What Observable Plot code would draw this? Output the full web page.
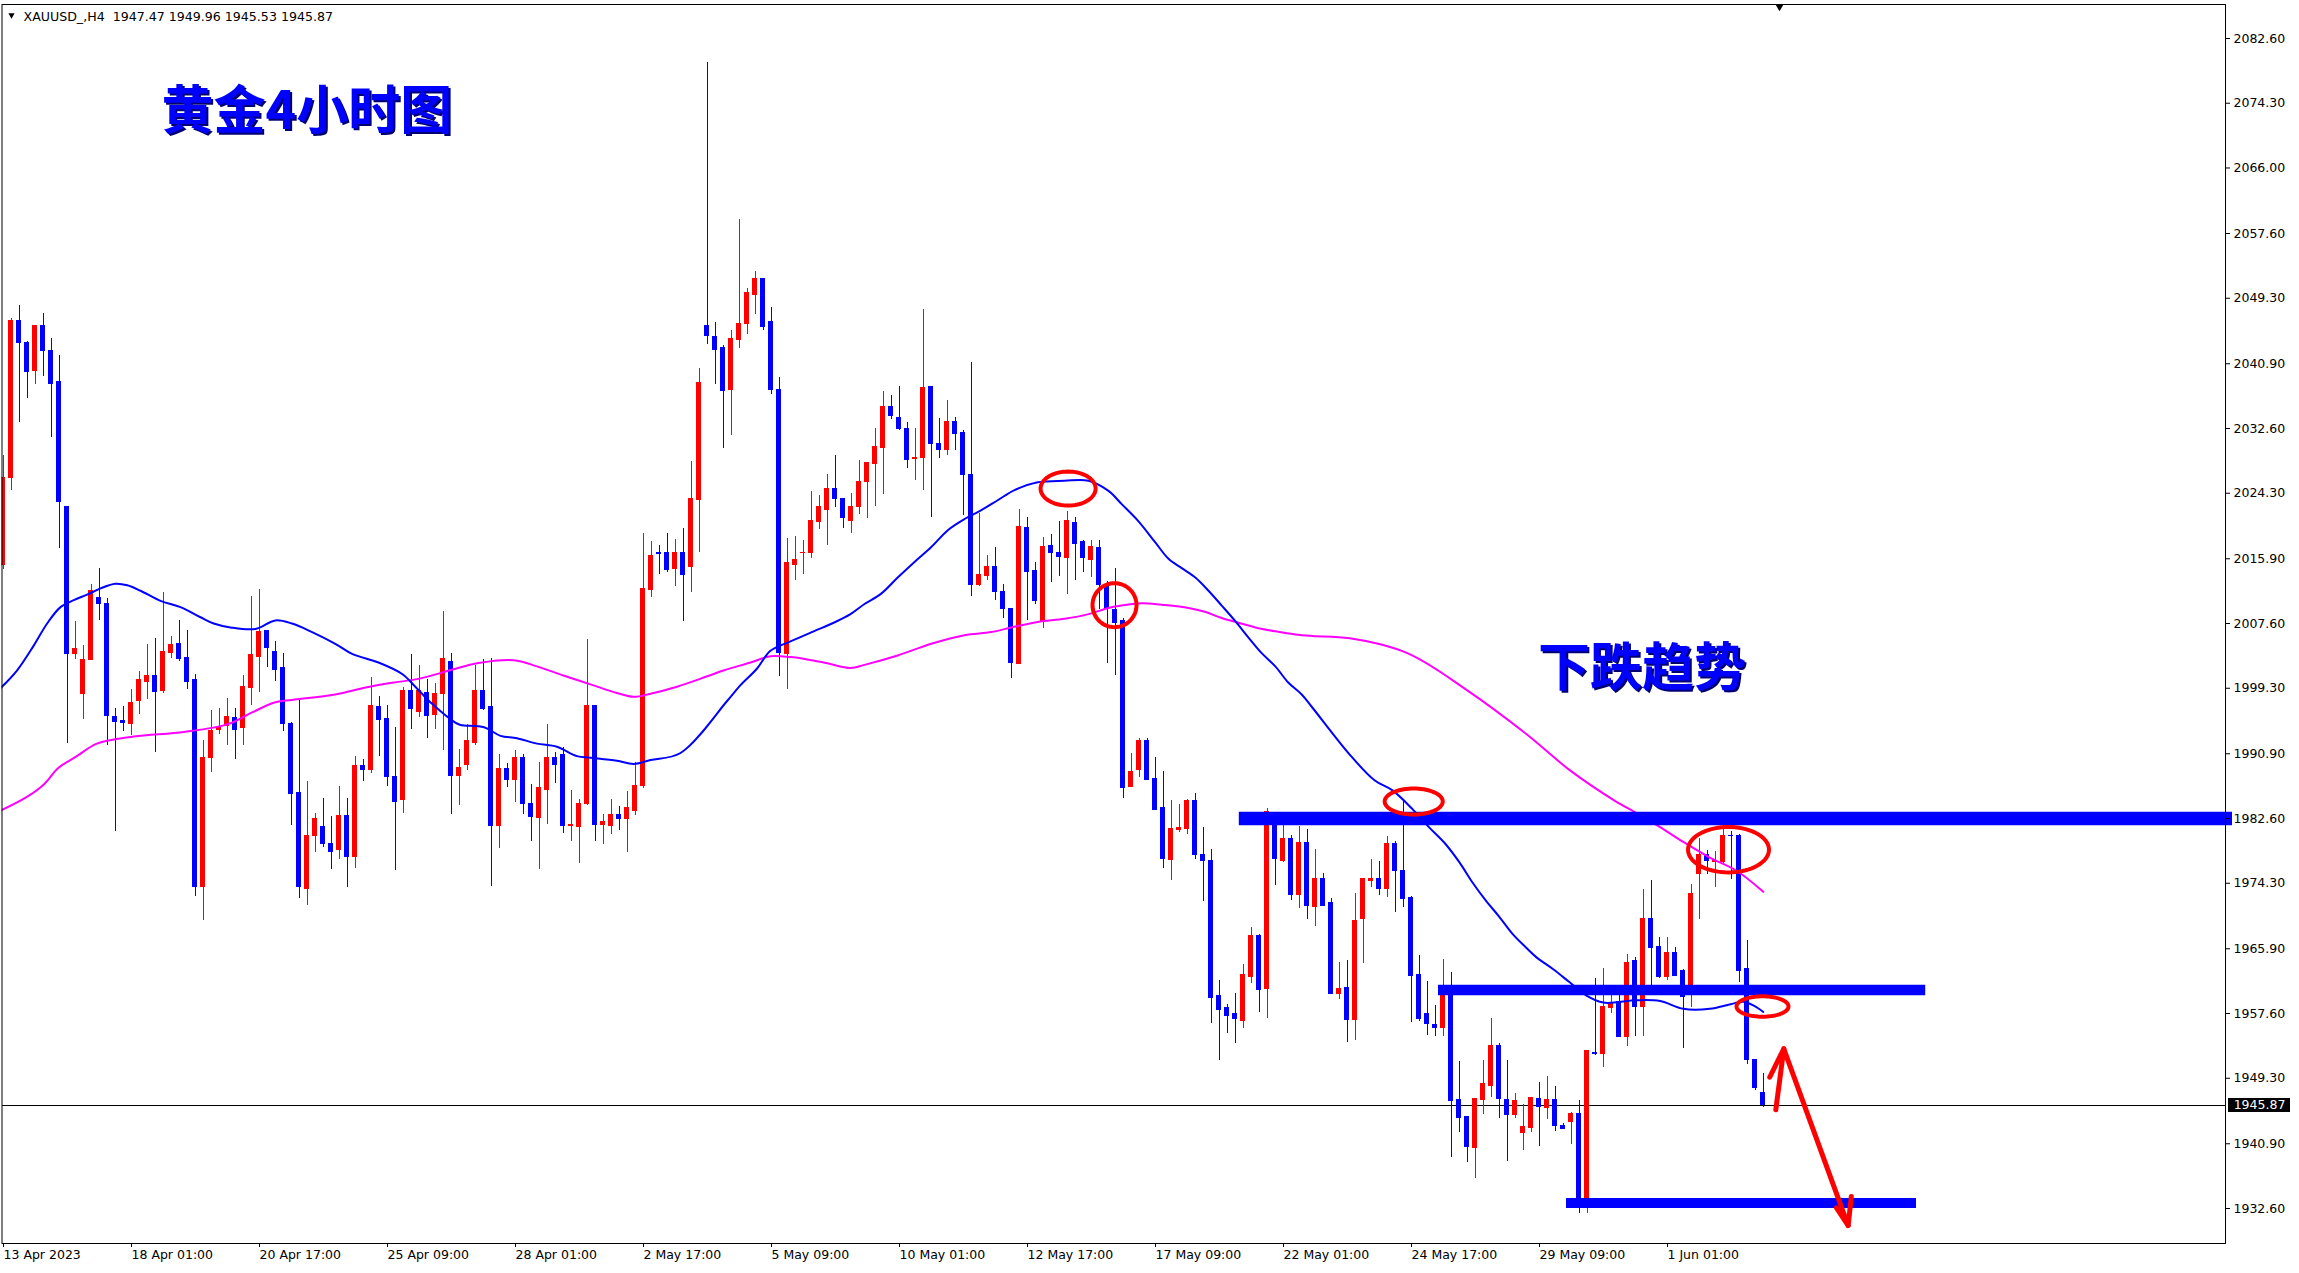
<!DOCTYPE html>
<html>
<head>
<meta charset="utf-8">
<script src="https://cdn.jsdelivr.net/npm/d3@7"></script>
<script src="https://cdn.jsdelivr.net/npm/@observablehq/plot@0.6"></script>
<style>
html,body{margin:0;padding:0;background:#fff;}
#chart svg{display:block;}
</style>
</head>
<body>
<div id="chart"></div>
<script>
// ---------- DATA ----------
const headerSymbol = "XAUUSD_,H4";
const lastOHLC = ["1947.47", "1949.96", "1945.53", "1945.87"];
const currentPrice = 1945.87;
const chartTitle = "黄金4小时图";
const trendLabel = "下跌趋势";

// H4 candles, index 0 = first visible bar (13 Apr 2023)
const opens = [
2015.1,2026.3,2046.4,2043.5,2040.0,2045.7,2042.5,2038.5,2022.6,2003.7,
1998.5,2002.9,2010.9,2010.1,1995.6,1995.1,1994.7,1997.7,2000.1,2000.9,
1999.0,2003.8,2005.0,2003.2,2000.3,1973.8,1990.4,1994.0,1994.4,1995.5,
1994.2,1999.3,2003.3,2006.6,2004.0,2001.9,1994.7,1985.9,1973.5,1980.3,
1981.5,1979.3,1978.6,1982.9,1977.7,1989.3,1988.8,1996.9,1995.3,1987.9,
1985.0,1998.9,1996.2,1998.7,1995.9,1998.5,2002.7,1988.0,1989.5,1992.3,
1998.9,1996.9,1981.7,1989.0,1987.5,1990.3,1984.5,1982.7,1986.2,1990.4,
1990.7,1981.6,1981.5,1984.4,1997.0,1981.8,1981.6,1983.1,1982.5,1983.6,
1986.8,2011.9,2016.6,2016.6,2014.6,2016.7,2014.9,2023.4,2045.8,2044.3,
2042.9,2037.5,2044.0,2046.0,2049.7,2051.8,2046.2,2037.6,2003.7,2015.1,
2016.6,2016.7,2020.6,2022.2,2024.8,2023.6,2020.7,2022.5,2025.8,2028.1,
2030.1,2035.4,2033.9,2032.6,2028.7,2028.8,2037.9,2030.6,2029.8,2033.4,
2032.0,2026.7,2012.6,2013.7,2014.9,2011.7,2009.4,2002.4,2019.9,2014.3,
2007.8,2017.5,2016.7,2016.0,2020.5,2018.0,2015.8,2017.3,2012.5,2009.3,
2007.9,1986.7,1988.8,1992.5,1987.7,1983.9,1977.3,1981.1,1981.3,1984.9,
1977.9,1977.2,1959.8,1958.3,1957.6,1956.7,1962.3,1967.5,1960.7,1982.1,
1977.1,1980.0,1972.8,1979.5,1971.2,1974.8,1971.8,1960.1,1960.9,1956.8,
1969.7,1974.6,1974.8,1973.5,1979.3,1975.9,1972.4,1962.5,1957.5,1956.1,
1955.7,1960.8,1946.5,1944.3,1940.3,1946.5,1948.3,1953.4,1946.5,1944.6,
1942.3,1942.9,1946.7,1945.5,1946.5,1943.2,1943.7,1944.7,1933.6,1952.6,
1952.4,1958.3,1959.1,1954.6,1964.3,1958.4,1969.7,1966.1,1962.3,1965.4,
1963.0,1961.0,1975.5,1977.9,1977.0,1977.0,1980.4,1980.3,1963.3,1951.7,1947.47];
const highs = [
2029.1,2046.7,2048.4,2043.8,2045.7,2047.3,2044.1,2042.0,2022.6,2007.8,
2004.8,2012.6,2014.7,2010.8,1996.7,1996.9,1999.1,2001.5,2004.9,2005.7,
2011.6,2005.9,2008.0,2006.7,2001.1,1992.6,1996.4,1996.7,1998.0,1996.7,
2000.9,2011.1,2012.0,2006.7,2005.3,2003.7,1994.9,1997.7,1987.3,1983.3,
1985.2,1982.9,1986.7,1985.2,1990.5,1990.2,2000.7,1998.2,1997.1,1994.3,
1999.4,2003.6,2002.2,2000.4,1999.9,2009.1,2003.8,1991.4,1994.7,2002.2,
2003.0,2003.1,1990.8,1989.7,1991.3,1990.8,1987.0,1989.8,1994.7,1991.0,
1991.7,1986.2,1985.0,2005.6,1997.0,1983.1,1985.0,1984.1,1986.1,1989.8,
2019.1,2018.1,2017.6,2019.2,2018.4,2019.8,2028.4,2040.3,2079.5,2046.2,
2043.2,2045.2,2059.4,2050.6,2052.7,2051.8,2048.1,2039.1,2018.5,2018.8,
2018.3,2024.5,2024.0,2026.7,2029.1,2023.6,2024.3,2028.5,2028.3,2032.6,
2037.3,2036.8,2038.0,2033.4,2032.6,2047.9,2037.9,2033.9,2036.2,2034.0,
2032.4,2041.1,2021.7,2016.3,2017.4,2012.6,2009.5,2022.2,2021.2,2015.4,
2018.6,2019.0,2020.7,2022.0,2021.2,2018.2,2018.2,2018.2,2013.0,2014.7,
2008.2,1990.9,1992.9,1992.9,1990.4,1988.6,1984.9,1984.4,1985.1,1985.8,
1981.4,1978.6,1961.8,1958.8,1960.2,1963.9,1968.6,1967.7,1983.9,1983.0,
1981.9,1980.4,1981.6,1981.2,1978.6,1975.5,1972.3,1964.1,1964.4,1973.0,
1974.9,1977.3,1977.1,1980.3,1979.7,1985.0,1972.6,1965.0,1961.7,1958.6,
1964.5,1962.8,1951.4,1944.3,1946.7,1951.6,1957.0,1953.7,1951.6,1947.3,
1945.9,1946.8,1948.7,1949.5,1948.2,1943.5,1944.9,1946.4,1952.9,1962.1,
1963.4,1959.9,1960.0,1965.2,1964.8,1973.5,1974.6,1967.4,1967.4,1966.0,
1963.3,1974.2,1980.0,1978.5,1978.4,1981.7,1980.9,1980.6,1967.0,1951.7,1949.96];
const lows = [
2014.5,2024.7,2033.4,2036.4,2038.2,2039.3,2031.5,2017.2,1992.2,2003.0,
1995.3,2002.9,2008.0,1992.0,1980.9,1993.8,1993.2,1995.9,1997.8,1991.0,
1998.6,2003.1,2002.7,1999.2,1972.6,1969.5,1988.5,1993.4,1992.0,1990.2,
1992.0,1997.1,1998.8,2001.9,2000.2,1993.7,1981.7,1972.4,1971.4,1978.3,
1978.9,1976.1,1977.4,1973.8,1976.2,1987.3,1988.4,1990.5,1986.7,1975.9,
1983.3,1994.0,1995.5,1992.9,1994.0,1991.3,1983.1,1984.3,1988.8,1991.9,
1996.5,1973.9,1978.8,1986.6,1984.7,1983.1,1979.6,1976.1,1981.8,1987.1,
1980.7,1979.6,1976.8,1984.3,1979.6,1979.3,1980.6,1981.0,1978.2,1983.0,
1986.5,2010.9,2013.9,2014.2,2012.3,2007.9,2011.6,2016.7,2043.4,2038.2,
2030.1,2031.7,2042.8,2044.6,2047.2,2045.2,2036.9,2000.8,1999.2,2013.1,
2013.9,2015.9,2019.7,2017.6,2022.5,2019.8,2019.1,2021.6,2021.1,2022.6,
2024.1,2033.8,2032.4,2027.5,2025.9,2024.7,2021.2,2028.8,2029.1,2029.8,
2021.5,2011.0,2012.3,2013.1,2010.5,2008.3,2000.6,2002.3,2008.0,2010.1,
2007.0,2012.9,2013.6,2011.3,2013.1,2014.1,2013.5,2009.4,2002.5,2000.9,
1985.2,1986.7,1987.8,1987.6,1983.7,1976.2,1974.6,1980.8,1980.6,1977.3,
1971.9,1956.3,1951.6,1955.0,1953.8,1955.7,1961.4,1957.7,1956.9,1974.0,
1976.9,1972.1,1971.0,1969.7,1968.7,1971.4,1960.1,1959.4,1953.9,1954.2,
1964.0,1973.7,1972.7,1972.5,1970.5,1971.2,1956.5,1956.6,1954.8,1954.7,
1954.7,1939.2,1942.4,1938.5,1936.5,1944.7,1946.8,1944.1,1938.6,1944.2,
1940.0,1942.4,1940.5,1944.0,1942.5,1942.7,1940.8,1931.9,1932.0,1952.2,
1950.7,1957.6,1954.6,1953.4,1954.7,1954.7,1961.0,1962.1,1961.8,1962.4,
1953.1,1958.4,1969.6,1975.4,1973.8,1976.8,1974.8,1961.6,1951.0,1947.7,1945.53];
const closes = [
2026.3,2046.4,2043.5,2039.8,2045.7,2042.5,2038.3,2023.2,2003.7,2004.3,
2002.9,2011.8,2010.1,1995.7,1995.0,1994.8,1997.4,2000.4,2000.9,1998.8,
2003.9,2004.9,2003.0,2000.1,1973.8,1990.4,1993.8,1994.3,1995.6,1993.9,
1999.4,2003.5,2006.5,2004.4,2001.7,1994.7,1985.8,1973.8,1980.4,1982.5,
1979.3,1978.3,1982.9,1977.7,1989.3,1988.8,1997.0,1995.2,1987.9,1984.7,
1998.9,1996.7,1998.9,1995.8,1998.6,2003.0,1988.0,1989.1,1992.5,1998.9,
1996.6,1981.6,1988.9,1987.5,1990.3,1984.4,1982.8,1986.5,1990.4,1989.4,
1981.6,1981.8,1984.4,1997.0,1981.8,1982.2,1983.0,1982.5,1983.9,1986.8,
2012.0,2016.3,2016.5,2014.5,2016.7,2013.8,2023.5,2038.4,2044.4,2042.7,
2037.4,2044.1,2046.0,2049.96,2051.8,2045.6,2037.5,2003.8,2015.3,2015.8,
2016.7,2020.8,2022.5,2024.8,2023.5,2021.1,2022.6,2025.8,2028.2,2030.2,
2035.4,2034.2,2032.6,2028.6,2028.8,2037.8,2030.6,2029.9,2033.4,2031.9,
2026.7,2012.5,2013.8,2014.8,2011.7,2009.4,2002.5,2020.0,2014.2,2010.5,
2017.4,2016.7,2016.1,2020.7,2017.8,2016.0,2017.4,2012.5,2009.6,2007.7,
1986.5,1988.6,1992.5,1987.6,1983.7,1977.4,1981.3,1981.4,1984.9,1977.9,
1977.2,1959.6,1958.1,1957.3,1956.9,1962.5,1967.5,1960.6,1983.4,1977.4,
1980.0,1972.8,1979.5,1971.4,1974.8,1971.4,1960.1,1960.8,1956.8,1969.5,
1974.8,1974.8,1973.5,1979.3,1975.9,1972.3,1962.4,1956.9,1956.2,1955.7,
1959.9,1946.4,1944.2,1940.5,1946.6,1948.5,1953.4,1946.7,1944.6,1946.4,
1943.0,1946.8,1945.6,1946.5,1943.2,1942.8,1944.7,1933.4,1952.8,1952.4,
1958.4,1958.9,1954.6,1964.1,1958.4,1969.7,1966.0,1962.3,1965.4,1962.4,
1959.7,1972.9,1977.9,1977.1,1977.2,1980.3,1980.3,1963.0,1951.7,1948.1,1945.87];

// time axis labels (every 16 bars)
const xTickIndex = [0,16,32,48,64,80,96,112,128,144,160,176,192,208];
const xTickLabels = ["13 Apr 2023","18 Apr 01:00","20 Apr 17:00","25 Apr 09:00","28 Apr 01:00",
  "2 May 17:00","5 May 09:00","10 May 01:00","12 May 17:00","17 May 09:00","22 May 01:00",
  "24 May 17:00","29 May 09:00","1 Jun 01:00"];
// price axis labels
const yTicks = [2082.60,2074.30,2066.00,2057.60,2049.30,2040.90,2032.60,2024.30,2015.90,
  2007.60,1999.30,1990.90,1982.60,1974.30,1965.90,1957.60,1949.30,1940.90,1932.60];

// moving averages, read as [bar index, price]
const maBlue = [[-0.25,1999.3],[1.83,2001.6],[3.92,2004.8],[5.58,2007.6],[7.25,2009.7],[8.92,2010.6],
 [10.58,2011.3],[12.25,2012.1],[14.1,2012.7],[15.6,2012.5],[17.25,2011.8],[19.75,2010.5],[22.25,2009.7],
 [24.75,2008.4],[26.4,2007.6],[28.5,2007.1],[31.6,2006.9],[34.1,2008.0],[36.2,2007.6],[38.7,2006.5],
 [41.6,2005.0],[43.7,2003.7],[47.0,2002.6],[50.0,2001.1],[51.6,1999.5],[53.7,1997.3],[56.6,1994.9],
 [57.25,1994.6],[60.2,1994.3],[62.25,1993.2],[64.3,1992.9],[66.8,1992.2],[69.3,1991.8],[71.8,1990.6],
 [73.5,1990.4],[76.8,1990.0],[78.9,1989.6],[81,1990.1],[84.75,1991.0],[90.6,1997.7],[92.25,1999.7],
 [94.3,2001.8],[96,2004.1],[98.5,2005.3],[101.4,2006.6],[103.9,2007.7],[106,2008.8],[107.75,2010.1],
 [109.8,2011.4],[111.9,2013.5],[114,2015.5],[116.1,2017.4],[118.2,2019.6],[120.25,2021.0],[122.3,2022.1],
 [124.4,2023.4],[126.5,2024.7],[129.4,2025.7],[132.75,2025.9],[135.75,2025.9],[138.25,2024.6],
 [139.9,2022.9],[142,2020.7],[144.1,2018.0],[145.75,2015.9],[147.4,2014.7],[149.1,2013.5],[150.75,2011.8],
 [152.4,2009.9],[154.1,2007.9],[155.75,2005.8],[157.4,2003.8],[159.1,2002.1],[160.75,2000.0],
 [162.4,1998.5],[163.75,1996.8],[168.4,1990.8],[171.5,1987.5],[173.75,1986.2],[176.25,1983.8],
 [178.3,1981.5],[180.4,1979.3],[182.1,1977.0],[183.75,1974.4],[185.4,1972.1],[187.1,1970.0],
 [188.75,1967.8],[190.4,1966.1],[191.75,1964.8],[193.8,1963.3],[195.9,1961.6],[198,1959.9],
 [200.1,1959.0],[204.25,1959.3],[207.2,1959.2],[210.1,1958.2],[213.4,1958.2],[216,1958.8],
 [217.6,1959.1],[218.9,1958.6],[220.1,1957.8]];
const maPink = [[-0.25,1983.6],[3.1,1985.4],[5.2,1987.0],[7.0,1989.1],[9.3,1990.6],[11.8,1992.2],
 [16.4,1993.1],[22.7,1993.7],[28.2,1994.7],[31.2,1996.2],[34.1,1997.5],[36.2,1997.8],[41.6,1998.5],
 [45.4,1999.4],[48.7,2000.0],[52,2000.5],[56.3,2001.7],[59.3,2002.5],[63.9,2002.9],[66.8,2002.1],
 [70.2,2000.9],[73.5,1999.8],[76.8,1998.7],[78.9,1998.2],[81,1998.6],[84.3,1999.5],[88,2000.8],
 [90.2,2001.6],[93.5,2002.6],[96,2003.4],[98.5,2003.3],[100.6,2003.0],[103.1,2002.5],[106,2001.9],
 [107.75,2002.3],[111.9,2003.5],[116.1,2005.0],[120.25,2006.1],[123.6,2006.5],[126.1,2007.1],
 [129.4,2007.8],[132.75,2008.2],[135.75,2008.8],[138.25,2009.6],[139.9,2009.9],[142.4,2010.2],
 [144.9,2010.0],[148.25,2009.6],[150.3,2009.1],[152.4,2008.3],[154.5,2007.7],[156.6,2007.1],
 [159.1,2006.6],[161.6,2006.2],[163.75,2006.0],[168.4,2005.7],[175.6,2003.8],[183,1999.1],
 [190.4,1993.5],[195.9,1988.8],[201.5,1984.9],[204.25,1983.3],[207.2,1981.5],[210.1,1979.6],
 [213.4,1977.6],[216.75,1975.9],[220.1,1973.2]];

// drawn annotations, in bar index / price units
const levelFrom  = [154.6, 179.5, 195.5];
const levelTo    = [278.75, 240.4, 239.25];
const levelPrice = [1982.6, 1960.6, 1933.3];
const ellipseCx = [133.2, 139.0, 176.4, 215.75, 220.0];
const ellipseCy = [2024.9, 2009.95, 1984.78, 1978.6, 1958.5];
const ellipseRx = [3.44, 2.75, 3.63, 5.06, 3.25];
const ellipseRy = [2.18, 2.82, 1.67, 2.91, 1.31];
const arrowStrokes = [
  [[221.66,1945.25],[222.66,1953.07],[230.71,1930.42]],
  [[220.9,1949.43],[222.66,1953.07]],
  [[229.25,1932.69],[230.71,1930.42],[231.1,1934.14]]
];

// ---------- BUILD ----------
const bars = opens.map((o, i) => ({i, open: o, high: highs[i], low: lows[i], close: closes[i],
  color: closes[i] >= o ? "#ff0000" : "#0000ff"}));
const blueRows = maBlue.map(([x, y]) => ({x, y}));
const pinkRows = maPink.map(([x, y]) => ({x, y}));
const levels = levelPrice.map((p, k) => ({k, x1: levelFrom[k], x2: levelTo[k], y: p}));
const ellipseRows = ellipseCx.flatMap((cx, k) => d3.range(72).map(j => {
  const t = 2 * Math.PI * j / 72;
  return {k, x: cx + ellipseRx[k] * Math.cos(t), y: ellipseCy[k] + ellipseRy[k] * Math.sin(t)};
}));
const arrowRows = arrowStrokes.flatMap((s, k) => s.map(([x, y]) => ({k, x, y})));
const headerText = headerSymbol + "\u00a0 " + lastOHLC.join(" ");

const FONT = "'DejaVu Sans', Verdana, sans-serif";
const CJK = "'Noto Sans CJK SC', 'Noto Sans CJK TC', sans-serif";

const chart = Plot.plot({
  width: 2299,
  height: 1273,
  marginLeft: 1.5,
  marginRight: 74,
  marginTop: 4,
  marginBottom: 30,
  x: {domain: [-0.0625, 277.875]},
  y: {domain: [1928.115, 2086.959]},
  style: {fontFamily: FONT, fontSize: "12.5px", background: "#fff", color: "#000", overflow: "visible"},
  marks: [
    // current price line
    Plot.ruleY([currentPrice], {stroke: "#000", strokeWidth: 1, shapeRendering: "crispEdges"}),
    // candles
    Plot.ruleX(bars, {x: "i", y1: "low", y2: "high", stroke: "color", strokeWidth: 1, dx: 0.5, clip: true, shapeRendering: "crispEdges"}),
    Plot.rect(bars, {x1: d => d.i - 0.25, x2: d => d.i + 0.25, y1: "open", y2: "close",
      fill: "color", stroke: "color", strokeWidth: 1, clip: true, shapeRendering: "crispEdges"}),
    // moving averages
    Plot.line(pinkRows, {x: "x", y: "y", stroke: "#ff00ff", strokeWidth: 2, curve: "catmull-rom", clip: true}),
    Plot.line(blueRows, {x: "x", y: "y", stroke: "#0000ff", strokeWidth: 2, curve: "catmull-rom", clip: true}),
    // horizontal levels
    Plot.ruleY(levels, {y: "y", x1: "x1", x2: "x2", stroke: "#0000ff",
      strokeWidth: d => [13.5, 10.5, 10][d.k], strokeLinecap: "butt"}),
    // ellipses
    Plot.line(ellipseRows, {x: "x", y: "y", z: "k", stroke: "#ff0000", strokeWidth: 4, curve: "linear-closed"}),
    // arrow
    Plot.line(arrowRows, {x: "x", y: "y", z: "k", stroke: "#ff0000", strokeWidth: 5,
      strokeLinecap: "round", strokeLinejoin: "round"}),
    // texts
    Plot.text([chartTitle], {text: d => d, frameAnchor: "top-left", dx: 161.5, dy: 110, textAnchor: "start",
      lineAnchor: "middle", fontFamily: CJK, fontWeight: "bold", fontSize: 52, fill: "#000070"}),
    Plot.text([chartTitle], {text: d => d, frameAnchor: "top-left", dx: 159.5, dy: 108, textAnchor: "start",
      lineAnchor: "middle", fontFamily: CJK, fontWeight: "bold", fontSize: 52, fill: "#0000ff"}),
    Plot.text([trendLabel], {text: d => d, frameAnchor: "top-left", dx: 1538, dy: 667, textAnchor: "start",
      lineAnchor: "middle", fontFamily: CJK, fontWeight: "bold", fontSize: 52, fill: "#000070"}),
    Plot.text([trendLabel], {text: d => d, frameAnchor: "top-left", dx: 1536, dy: 665, textAnchor: "start",
      lineAnchor: "middle", fontFamily: CJK, fontWeight: "bold", fontSize: 52, fill: "#0000ff"}),
    // header
    Plot.dot([0], {frameAnchor: "top-left", dx: 9.5, dy: 10.5, symbol: "triangle2", rotate: 180, r: 3, fill: "#000", stroke: null}),
    Plot.text([headerText], {text: d => d, frameAnchor: "top-left", dx: 21.5, dy: 12.5, textAnchor: "start",
      lineAnchor: "middle", fontSize: 12.6, fill: "#000"}),
    // chart-shift marker at top
    Plot.dot([0], {frameAnchor: "top-left", dx: 1777.5, dy: 2.5, symbol: "triangle2", rotate: 180, r: 3.5, fill: "#000", stroke: null}),
    // axes
    Plot.axisY(yTicks, {anchor: "right", tickFormat: d => d.toFixed(2), tickSize: 4, tickPadding: 4,
      fontSize: 12.5, label: null, fill: "#000", stroke: "#000"}),
    Plot.axisX(xTickIndex, {anchor: "bottom", tickFormat: d => xTickLabels[xTickIndex.indexOf(d)],
      textAnchor: "start", tickSize: 4, tickPadding: 3, dx: 1, fontSize: 12.5, label: null, fill: "#000", stroke: "#000"}),
    // current price label box
    Plot.ruleY([currentPrice], {stroke: "#000", strokeWidth: 14, insetLeft: 2226.5, insetRight: -65}),
    Plot.text([currentPrice], {y: d => d, text: d => d.toFixed(2), frameAnchor: "right", dx: 34,
      textAnchor: "middle", fill: "#fff", fontSize: 12.5}),
    Plot.frame({stroke: "#000", strokeWidth: 1})
  ]
});
document.getElementById("chart").appendChild(chart);
</script>
</body>
</html>
